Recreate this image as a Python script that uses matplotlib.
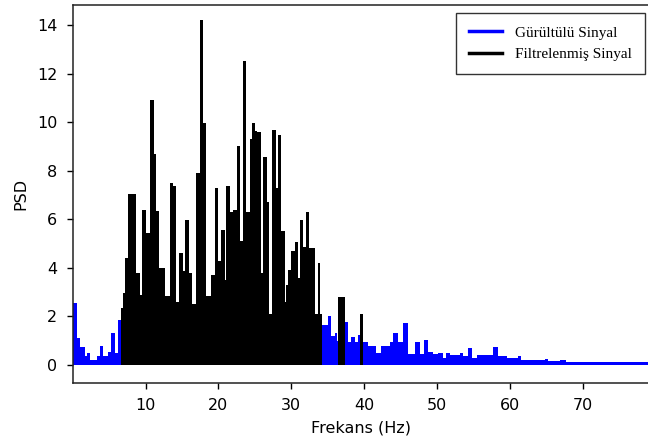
"""
PSD karşılaştırması: gürültülü sinyal ve filtrelenmiş sinyal
"""

import matplotlib
matplotlib.use('Agg')
import matplotlib.pyplot as plt
from matplotlib.lines import Line2D

plt.rcParams['font.family'] = 'DejaVu Sans'
plt.rcParams['font.size'] = 11.5

# ---------------------------------------------------------------------------
# Veriler (grafikten okunan tepe değerleri, frekans aralıkları Hz)
# ---------------------------------------------------------------------------
# Gürültülü sinyal - düşük frekans kısmı
noisy_low_edges = [0.05, 0.6, 1.0, 1.7, 1.9, 2.4, 3.3, 3.7, 4.2, 4.9, 5.2, 5.8, 6.2, 6.75]
noisy_low_psd = [2.55, 1.1, 0.75, 0.35, 0.5, 0.2, 0.35, 0.8, 0.35, 0.55, 1.3, 0.5, 1.85]

# Gürültülü sinyal - yüksek frekans kısmı
noisy_high_edges = [34.0, 35.07, 35.5, 36.0, 36.3, 36.45, 37.36, 37.8, 38.26, 38.7, 39.17,
                    39.42, 39.88, 40.57, 41.7, 42.4, 43.5, 43.97, 44.66, 45.35, 46.0, 46.95,
                    47.64, 48.3, 48.8, 49.5, 50.2, 50.87, 51.3, 51.8, 53.15, 53.6, 54.3,
                    54.76, 55.45, 57.7, 58.4, 59.6, 61.2, 61.6, 64.8, 65.3, 66.9, 67.8, 79.2]
noisy_high_psd = [1.65, 2.0, 1.2, 1.3, 1.0, 1.1, 1.77, 0.95, 1.15, 0.95, 1.25, 1.0, 0.95,
                  0.8, 0.5, 0.8, 0.95, 1.3, 0.95, 1.73, 0.45, 0.95, 0.45, 1.03, 0.55, 0.45,
                  0.5, 0.3, 0.5, 0.4, 0.5, 0.35, 0.7, 0.3, 0.4, 0.75, 0.35, 0.3, 0.35, 0.2,
                  0.25, 0.15, 0.2, 0.12]

# Filtrelenmiş sinyal
filtered_edges = [0.05, 6.7, 6.92, 7.15, 7.6, 8.7, 9.2, 9.55, 10.1, 10.6, 11.2, 11.5, 11.8,
                  12.7, 13.33, 13.8, 14.25, 14.65, 15.1, 15.45, 15.95, 16.45, 16.95, 17.45,
                  17.9, 18.25, 19.0, 19.5, 19.97, 20.4, 20.9, 21.1, 21.57, 22.0, 22.5, 23.0,
                  23.4, 23.86, 24.3, 24.6, 24.98, 25.3, 25.85, 26.2, 26.7, 27.0, 27.4, 27.9,
                  28.2, 28.67, 29.1, 29.3, 29.58, 30.04, 30.5, 30.96, 31.28, 31.65, 32.0,
                  32.5, 33.3, 33.7, 34.0, 34.2, 36.45, 37.36, 39.42, 39.88, 79.2]
filtered_psd = [0, 2.35, 2.95, 4.4, 7.05, 3.8, 2.9, 6.38, 5.42, 10.9, 8.7, 6.35, 4.0, 2.85,
                7.5, 7.37, 2.6, 4.6, 3.85, 5.97, 3.8, 2.5, 7.9, 14.2, 9.95, 2.85, 3.7, 7.3,
                4.3, 5.55, 3.5, 7.37, 6.3, 6.38, 9.0, 5.1, 12.5, 6.3, 9.3, 9.95, 9.65, 9.6,
                3.8, 8.57, 6.7, 2.1, 9.67, 7.3, 9.47, 5.5, 2.6, 3.3, 3.9, 4.7, 5.06, 3.6,
                5.97, 4.86, 6.3, 4.8, 2.1, 4.2, 2.1, 0, 2.8, 0, 2.1, 0]

x_ticks = [10, 20, 30, 40, 50, 60, 70]
y_ticks = [0, 2, 4, 6, 8, 10, 12, 14]

# ---------------------------------------------------------------------------
# Grafik
# ---------------------------------------------------------------------------
fig = plt.figure(figsize=(6.48, 4.43), dpi=100)
ax = fig.add_axes([0.1127, 0.1361, 0.89, 0.8526])

ax.stairs(noisy_low_psd, noisy_low_edges, fill=True, color='blue', lw=1.5)
ax.stairs(noisy_high_psd, noisy_high_edges, fill=True, color='blue', lw=1.8)
ax.stairs(filtered_psd, filtered_edges, fill=True, color='black', lw=2.0)

ax.set_xlim(0.05, 79.23)
ax.set_ylim(-0.73, 14.82)
ax.set_xticks(x_ticks)
ax.set_yticks(y_ticks)
ax.tick_params(length=4.3, width=1, pad=7, labelsize=11.5)
for sp in ax.spines.values():
    sp.set_linewidth(1.1)
    sp.set_color('#222222')

ax.set_xlabel('Frekans (Hz)', fontsize=11.5, labelpad=5)
ax.set_ylabel('PSD', fontsize=11.5, labelpad=6)

handles = [Line2D([], [], color='blue', lw=2.5),
           Line2D([], [], color='black', lw=2.5)]
leg = fig.legend(handles, ['Gürültülü Sinyal', 'Filtrelenmiş Sinyal'],
                 loc='upper right', bbox_to_anchor=(645 / 648, 1 - 13 / 443),
                 prop={'family': 'Liberation Serif', 'size': 11},
                 fancybox=False, framealpha=1, edgecolor='#333333',
                 handlelength=2.2, handletextpad=0.85, borderpad=0.85,
                 labelspacing=0.5, borderaxespad=0)
leg.get_frame().set_linewidth(1.0)

plt.savefig('out.png', dpi=100)
plt.close()
